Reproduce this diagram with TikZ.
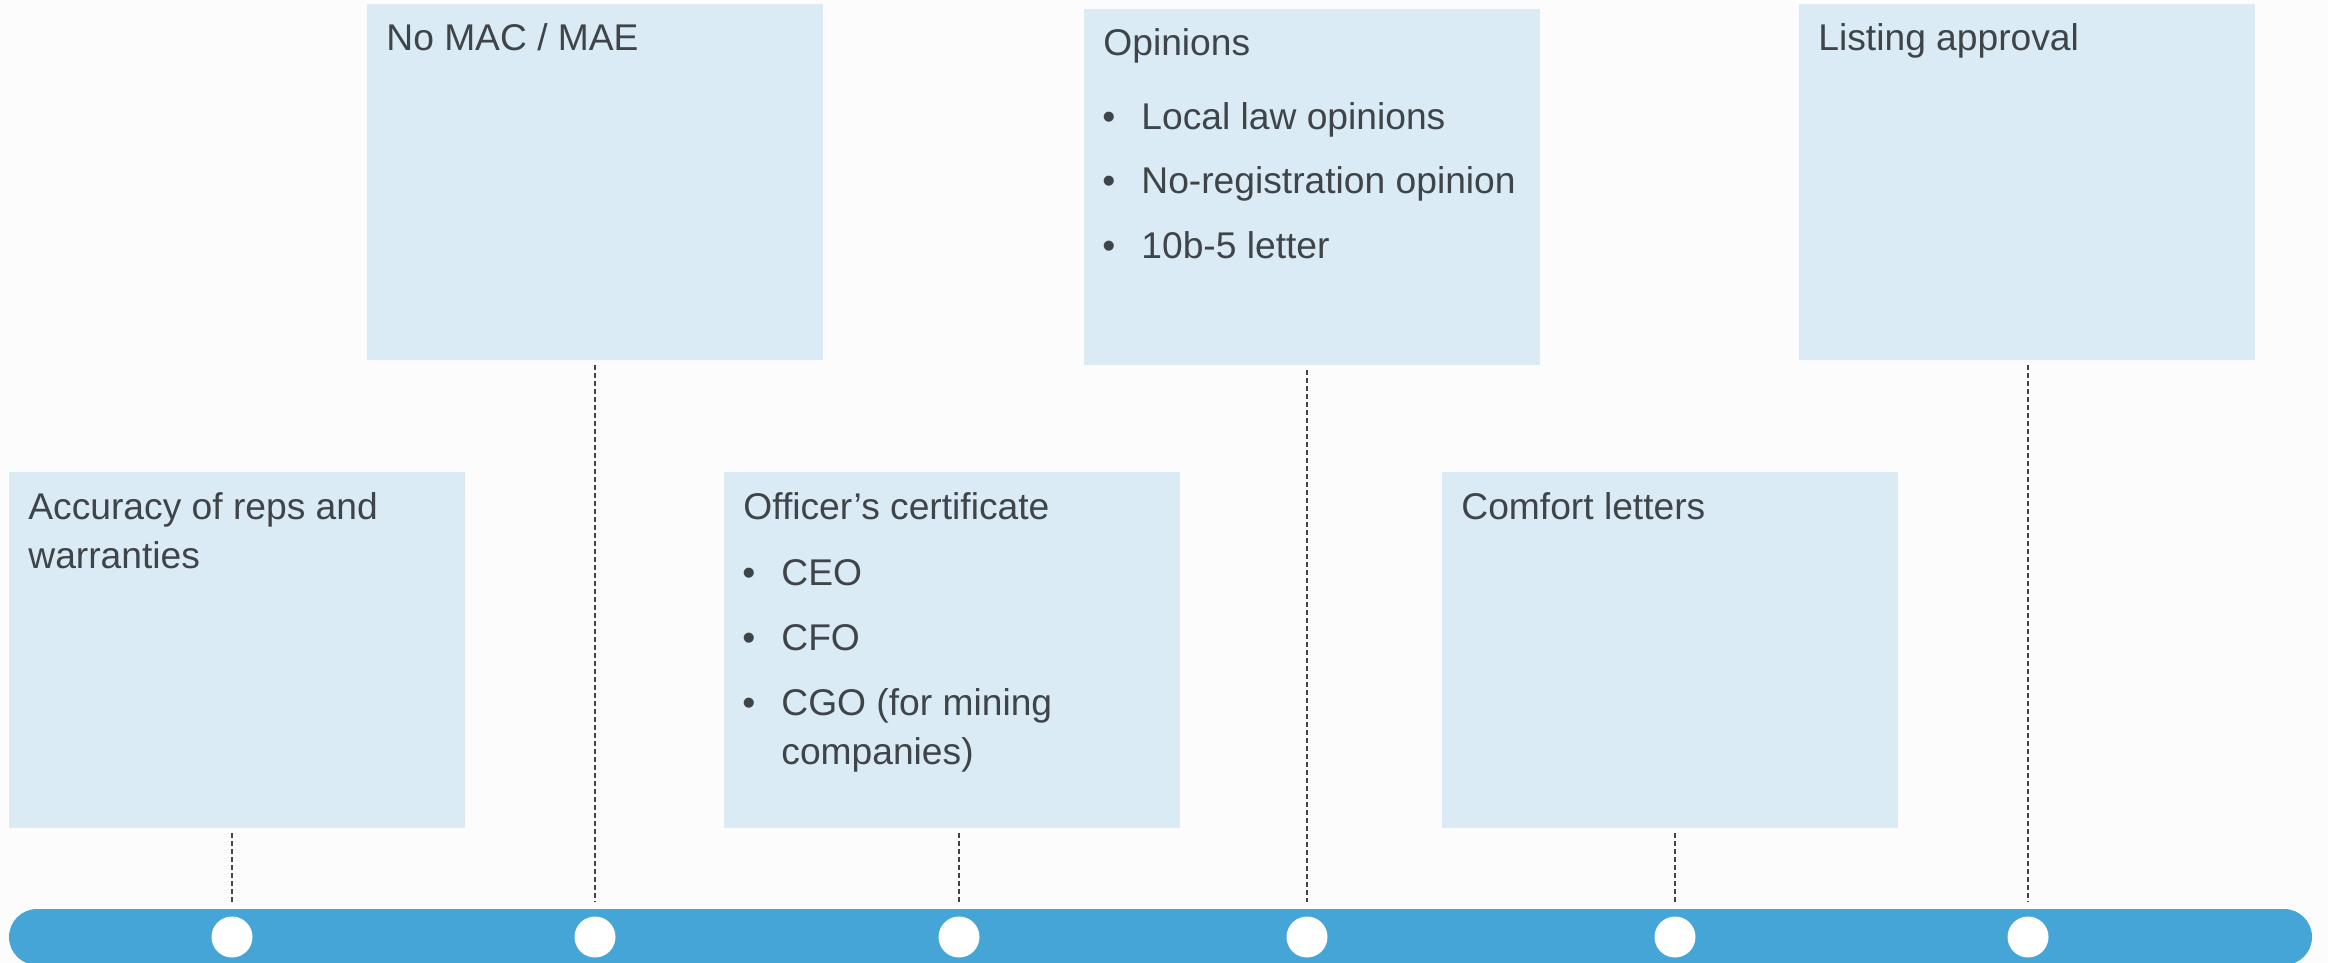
\documentclass[tikz,border=0pt]{standalone}
\usepackage{fontspec}
\setmainfont{Liberation Sans}
\usepackage{enumitem}
\usetikzlibrary{positioning}
\definecolor{boxfill}{HTML}{DAEBF6}
\definecolor{barblue}{HTML}{45A5D7}
\definecolor{txtgray}{HTML}{3F4448}
\definecolor{bggray}{HTML}{FCFCFC}
\newlist{bul}{itemize}{1}
\setlist[bul]{label=\hspace{-0.5pt}\textbullet,align=left,labelwidth=19pt,labelsep=0pt,leftmargin=19pt,topsep=8.5pt,itemsep=8pt,parsep=0pt,partopsep=0pt}
\newcommand{\boxtext}[1]{\begin{minipage}[t]{215pt}\raggedright #1\end{minipage}}

\begin{document}
\begin{tikzpicture}[x=0.5pt,y=-0.5pt,
  box/.style={fill=boxfill,anchor=north west,minimum width=228pt,minimum height=178pt,inner sep=0pt},
  txt/.style={anchor=base west,inner sep=0pt,text=txtgray,font=\fontsize{18.6pt}{24.5pt}\selectfont},
  conn/.style={draw=txtgray,line width=0.65pt,dash pattern=on 2.5pt off 1.5pt},
  dot/.style={circle,fill=white,minimum size=20.5pt,inner sep=0pt}]
\clip (0,0) rectangle (2328,963);
\fill[bggray] (0,0) rectangle (2328,963);

\node[box] (acc) at (9,472) {};
\node[box] (mac) at (367,4) {};
\node[box] (off) at (724,472) {};
\node[box] (opn) at (1084,9) {};
\node[box] (cmf) at (1442,472) {};
\node[box] (lst) at (1799,4) {};

\node[txt] (acct) at ([xshift=9.5pt,yshift=-23.5pt]acc.north west) {\boxtext{Accuracy of reps and\\warranties}};
\node[txt] (mact) at ([xshift=9.5pt,yshift=-23.5pt]mac.north west) {\boxtext{No MAC / MAE}};
\node[txt] (offt) at ([xshift=9.5pt,yshift=-23.5pt]off.north west) {\boxtext{Officer’s certificate
  \begin{bul}
  \item CEO
  \item CFO
  \item CGO (for mining\newline companies)
  \end{bul}}};
\node[txt] (opnt) at ([xshift=9.5pt,yshift=-23.5pt]opn.north west) {\boxtext{Opinions
  \begin{bul}[topsep=12pt]
  \item Local law opinions
  \item No-registration opinion
  \item 10b-5 letter
  \end{bul}}};
\node[txt] (cmft) at ([xshift=9.5pt,yshift=-23.5pt]cmf.north west) {\boxtext{Comfort letters}};
\node[txt] (lstt) at ([xshift=9.5pt,yshift=-23.5pt]lst.north west) {\boxtext{Listing approval}};

\node[fill=barblue,rounded corners=14pt,minimum width=1151.5pt,minimum height=28pt,inner sep=0pt] (bar) at (1160.5,937) {};
\node[dot] (t1) at (232,937) {};
\node[dot] (t2) at (595,937) {};
\node[dot] (t3) at (959,937) {};
\node[dot] (t4) at (1307,937) {};
\node[dot] (t5) at (1675,937) {};
\node[dot] (t6) at (2028,937) {};

\draw[conn] ([yshift=-2pt]acc.south -| t1) -- ([yshift=3.5pt]bar.north -| t1);
\draw[conn] ([yshift=-2pt]mac.south -| t2) -- ([yshift=3.5pt]bar.north -| t2);
\draw[conn] ([yshift=-2pt]off.south -| t3) -- ([yshift=3.5pt]bar.north -| t3);
\draw[conn] ([yshift=-2pt]opn.south -| t4) -- ([yshift=3.5pt]bar.north -| t4);
\draw[conn] ([yshift=-2pt]cmf.south -| t5) -- ([yshift=3.5pt]bar.north -| t5);
\draw[conn] ([yshift=-2pt]lst.south -| t6) -- ([yshift=3.5pt]bar.north -| t6);
\end{tikzpicture}
\end{document}
